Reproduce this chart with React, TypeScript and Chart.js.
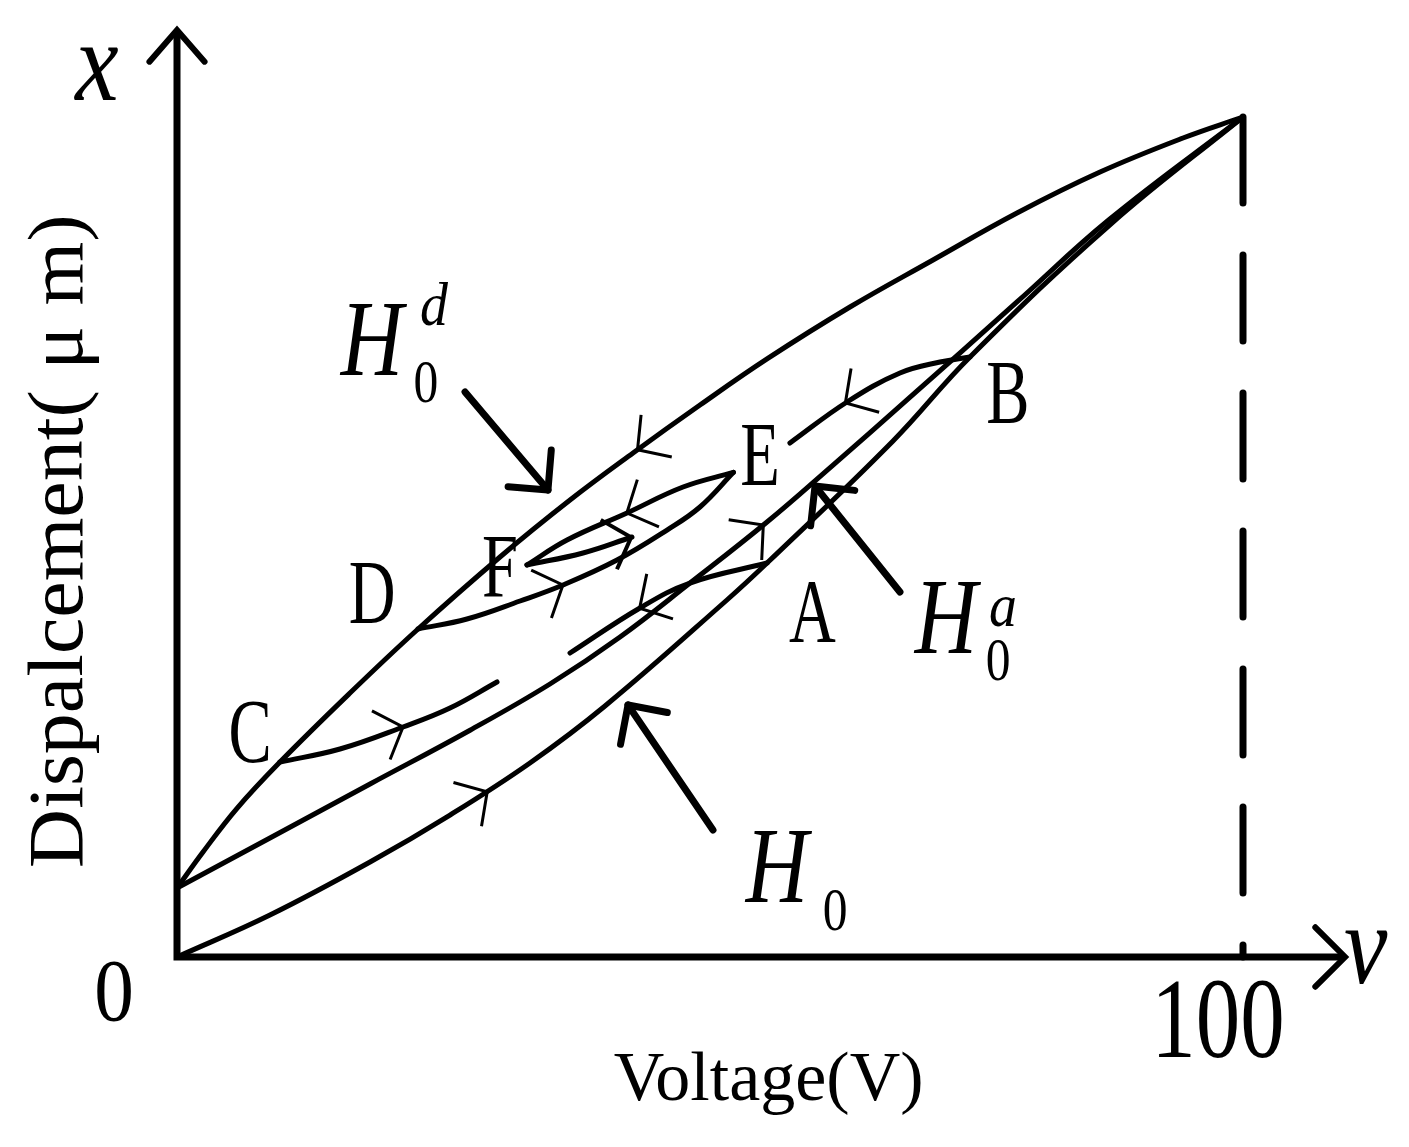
import React, { useEffect, useRef } from "react";
import { Chart, registerables } from "chart.js";

Chart.register(...registerables);

// ---- curve data (voltage in %, displacement in % of full scale) ----
const upperV = [0, 2.44, 5.63, 9.66, 16.23, 22.51, 30.3, 36.87, 42.78, 49.06, 55.35, 63.13, 70.92, 78.8, 86.59, 94.37, 100];
const upperD = [8.21, 12.5, 17.7, 23.21, 31.43, 38.93, 47.62, 54.4, 60.0, 65.71, 71.2, 77.38, 82.98, 88.57, 93.45, 97.5, 100];

const middleV = [0, 8.72, 18.11, 27.49, 34.99, 41.56, 48.12, 55.35, 61.54, 68.48, 78.8, 87.4, 100];
const middleD = [8.21, 14.17, 20.6, 27.0, 32.5, 38.1, 44.52, 51.79, 58.57, 66.31, 77.98, 87.74, 100];

const lowerV = [0, 8.72, 18.11, 25.61, 33.11, 40.15, 51.59, 55.35, 67.17, 74.39, 87.6, 100];
const lowerD = [0, 5.0, 11.31, 16.9, 23.1, 29.88, 42.5, 46.9, 61.43, 71.43, 87.26, 100];

const arcCV = [9.66, 15.29, 21.2, 25.61, 30.02];
const arcCD = [23.21, 24.76, 27.38, 29.64, 32.74];

const arcDV = [22.61, 27.2, 32.18, 36.21, 41.28, 45.97, 49.06, 52.2];
const arcDD = [39.05, 40.24, 42.38, 44.29, 47.26, 50.83, 53.57, 57.7];

const arcEFV = [32.83, 36.59, 42.21, 47.47, 52.2];
const arcEFD = [46.67, 49.64, 52.86, 55.95, 57.7];

const arcFV = [32.83, 38.09, 42.68];
const arcFD = [46.67, 48.1, 50.0];

const arcBV = [57.5, 62.85, 67.82, 71.58, 74.39];
const arcBD = [61.19, 66.07, 69.52, 70.83, 71.43];

const arcAV = [36.87, 43.43, 48.12, 55.35];
const arcAD = [36.19, 41.55, 44.52, 46.9];

const limitV = [100, 100];
const limitD = [100, 0];

const xTickLabels = ["0", "100"];
const pointNames = ["A", "B", "C", "D", "E", "F"];
const pointNameV = [59.6, 77.95, 6.85, 18.3, 54.7, 30.3];
const pointNameD = [37.5, 63.6, 23.2, 39.8, 56.2, 42.9];

// direction ticks on the curves
const tickCurve = ["upper", "arcEF", "arcD", "arcF", "middle", "arcA", "arcB", "arcC", "lower"];
const tickV = [43.2, 42.2, 36.2, 42.6, 55.0, 43.4, 62.7, 21.2, 29.1];
const tickDir = [-1, -1, 1, 1, 1, -1, -1, 1, 1];

// pointer arrows for the H labels
const pointerFromV = [27.02, 67.82, 50.28];
const pointerFromD = [67.26, 43.45, 15.12];
const pointerToV = [34.8, 59.85, 42.31];
const pointerToD = [55.6, 56.07, 30.0];

const curveNames = ["upper", "middle", "lower", "arcC", "arcD", "arcEF", "arcF", "arcB", "arcA"];
const curveVs = [upperV, middleV, lowerV, arcCV, arcDV, arcEFV, arcFV, arcBV, arcAV];
const curveDs = [upperD, middleD, lowerD, arcCD, arcDD, arcEFD, arcFD, arcBD, arcAD];

const SERIF = "'Liberation Serif', 'Times New Roman', serif";

function drawText(ctx: CanvasRenderingContext2D, text: string, x: number, y: number, size: number, italic: boolean, hs: number) {
  ctx.save();
  ctx.translate(x, y);
  ctx.scale(hs, 1);
  ctx.font = `${italic ? "italic " : ""}${size}px ${SERIF}`;
  ctx.textAlign = "center";
  ctx.textBaseline = "alphabetic";
  ctx.fillStyle = "#000";
  ctx.fillText(text, 0, 0);
  ctx.restore();
}

function drawHead(ctx: CanvasRenderingContext2D, x: number, y: number, ang: number, len: number, half: number) {
  ctx.beginPath();
  ctx.moveTo(x + len * Math.cos(ang + Math.PI - half), y + len * Math.sin(ang + Math.PI - half));
  ctx.lineTo(x, y);
  ctx.lineTo(x + len * Math.cos(ang + Math.PI + half), y + len * Math.sin(ang + Math.PI + half));
  ctx.stroke();
}

function pointOnCurve(chart: any, dsIndex: number, v: number) {
  const pts: any[] = chart.getDatasetMeta(dsIndex).data;
  const px = chart.scales.x.getPixelForValue(v);
  for (let i = 0; i < pts.length - 1; i++) {
    const a = pts[i];
    const b = pts[i + 1];
    if (px >= Math.min(a.x, b.x) - 0.01 && px <= Math.max(a.x, b.x) + 0.01) {
      const P0 = [a.x, a.y];
      const P1 = [a.cp2x ?? a.x, a.cp2y ?? a.y];
      const P2 = [b.cp1x ?? b.x, b.cp1y ?? b.y];
      const P3 = [b.x, b.y];
      const bz = (t: number, k: number) => {
        const u = 1 - t;
        return u * u * u * P0[k] + 3 * u * u * t * P1[k] + 3 * u * t * t * P2[k] + t * t * t * P3[k];
      };
      const dz = (t: number, k: number) => {
        const u = 1 - t;
        return 3 * u * u * (P1[k] - P0[k]) + 6 * u * t * (P2[k] - P1[k]) + 3 * t * t * (P3[k] - P2[k]);
      };
      let lo = 0;
      let hi = 1;
      for (let it = 0; it < 50; it++) {
        const mid = (lo + hi) / 2;
        if (bz(mid, 0) < px) lo = mid;
        else hi = mid;
      }
      const t = (lo + hi) / 2;
      return { x: bz(t, 0), y: bz(t, 1), dx: dz(t, 0), dy: dz(t, 1) };
    }
  }
  return null;
}

const decorPlugin = {
  id: "decor",
  afterDatasetsDraw(chart: any) {
    const ctx: CanvasRenderingContext2D = chart.ctx;
    const xs = chart.scales.x;
    const ys = chart.scales.y;
    const X = (v: number) => xs.getPixelForValue(v);
    const Y = (d: number) => ys.getPixelForValue(d);
    ctx.save();
    ctx.strokeStyle = "#000";
    ctx.fillStyle = "#000";

    // axes
    const x0 = X(0);
    const y0 = Y(0);
    const yTop = Y(110.36);
    const xEnd = X(109.57);
    ctx.lineWidth = 7;
    ctx.lineCap = "butt";
    ctx.beginPath();
    ctx.moveTo(x0, y0 + 3.5);
    ctx.lineTo(x0, yTop + 2);
    ctx.moveTo(x0 - 3.5, y0);
    ctx.lineTo(xEnd - 2, y0);
    ctx.stroke();
    ctx.lineCap = "round";
    ctx.lineJoin = "miter";
    ctx.lineWidth = 6;
    drawHead(ctx, x0, yTop, -Math.PI / 2, 42, (41 * Math.PI) / 180);
    drawHead(ctx, xEnd, y0, 0, 42, (45 * Math.PI) / 180);

    // direction ticks
    ctx.lineJoin = "miter";
    ctx.lineCap = "butt";
    for (let i = 0; i < tickCurve.length; i++) {
      const idx = curveNames.indexOf(tickCurve[i]);
      const p = pointOnCurve(chart, idx, tickV[i]);
      if (!p) continue;
      const ang = Math.atan2(p.dy * tickDir[i], p.dx * tickDir[i]);
      ctx.lineWidth = tickCurve[i] === "arcF" ? 4 : 3;
      drawHead(ctx, p.x, p.y, ang, 35, (48 * Math.PI) / 180);
    }

    // pointer arrows
    ctx.lineWidth = 7;
    ctx.lineCap = "round";
    ctx.lineJoin = "round";
    for (let i = 0; i < pointerFromV.length; i++) {
      const fx = X(pointerFromV[i]);
      const fy = Y(pointerFromD[i]);
      const tx = X(pointerToV[i]);
      const ty = Y(pointerToD[i]);
      ctx.beginPath();
      ctx.moveTo(fx, fy);
      ctx.lineTo(tx, ty);
      ctx.stroke();
      drawHead(ctx, tx, ty, Math.atan2(ty - fy, tx - fx), 40, (45 * Math.PI) / 180);
    }

    // point names
    for (let i = 0; i < pointNames.length; i++) {
      drawText(ctx, pointNames[i], X(pointNameV[i]), Y(pointNameD[i]), 90, false, 0.72);
    }

    // tick labels
    drawText(ctx, xTickLabels[0], x0 - 63, y0 + 63, 88, false, 0.9);
    drawText(ctx, xTickLabels[1], X(100) - 25, y0 + 100, 114, false, 0.78);

    // axis symbols
    drawText(ctx, "x", X(-7.5), Y(102), 115, true, 0.85);
    drawText(ctx, "v", X(111.5), Y(-3.1), 115, true, 0.85);

    // axis titles
    drawText(ctx, "Voltage(V)", X(55.5), Y(-17), 70, false, 1.0);
    ctx.save();
    ctx.translate(82, Y(49.5));
    ctx.rotate(-Math.PI / 2);
    drawText(ctx, "Dispalcement( μ m)", 0, 0, 78, false, 1.05);
    ctx.restore();

    // H labels
    drawText(ctx, "H", X(18.29), Y(69.29), 108, true, 0.8);
    drawText(ctx, "0", X(23.36), Y(66.07), 62, false, 0.8);
    drawText(ctx, "d", X(24.11), Y(75.24), 62, true, 0.9);

    drawText(ctx, "H", X(72.14), Y(36.19), 108, true, 0.8);
    drawText(ctx, "0", X(77.02), Y(32.98), 62, false, 0.8);
    drawText(ctx, "a", X(77.49), Y(39.4), 62, true, 0.9);

    drawText(ctx, "H", X(56.29), Y(6.55), 108, true, 0.8);
    drawText(ctx, "0", X(61.73), Y(3.21), 62, false, 0.8);

    ctx.restore();
  },
};

export default function App() {
  const canvasRef = useRef<HTMLCanvasElement | null>(null);

  useEffect(() => {
    const canvas = canvasRef.current;
    if (!canvas) return;
    const datasets: any[] = curveNames.map((name, i) => ({
      label: name,
      data: curveVs[i].map((v, j) => ({ x: v, y: curveDs[i][j] })),
      borderColor: "#000",
      borderWidth: 5,
      pointRadius: 0,
      fill: false,
      clip: false,
      tension: 0.4,
      cubicInterpolationMode: "default",
      borderCapStyle: "round",
    }));
    datasets.push({
      label: "limit",
      data: limitV.map((v, j) => ({ x: v, y: limitD[j] })),
      borderColor: "#000",
      borderWidth: 7,
      pointRadius: 0,
      fill: false,
      clip: false,
      tension: 0,
      borderDash: [86, 52],
      borderCapStyle: "round",
    });

    const chart = new Chart(canvas, {
      type: "line",
      data: { datasets },
      options: {
        animation: false,
        responsive: false,
        devicePixelRatio: 1,
        layout: { padding: { left: 177, right: 166, top: 117, bottom: 190 } },
        scales: {
          x: { type: "linear", min: 0, max: 100, display: false },
          y: { type: "linear", min: 0, max: 100, display: false },
        },
        plugins: { legend: { display: false }, tooltip: { enabled: false } },
      },
      plugins: [decorPlugin],
    } as any);
    return () => chart.destroy();
  }, []);

  return (
    <div style={{ position: "fixed", left: 0, top: 0, width: 1409, height: 1147, background: "#fff" }}>
      <canvas ref={canvasRef} width={1409} height={1147} style={{ display: "block" }} />
    </div>
  );
}
